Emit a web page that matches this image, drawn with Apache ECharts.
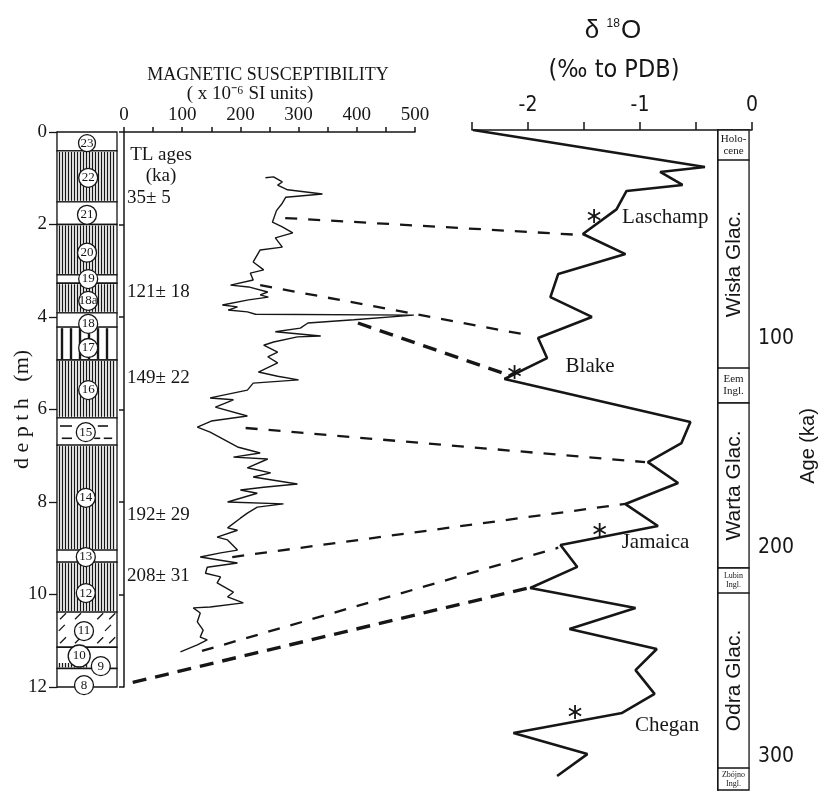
<!DOCTYPE html>
<html>
<head>
<meta charset="utf-8">
<script src="https://cdn.jsdelivr.net/npm/echarts@6/dist/echarts.min.js"></script>
<style>
html, body { margin: 0; padding: 0; background: #fff; }
#chart { width: 819px; height: 796px; }
</style>
</head>
<body>
<div id="chart"></div>
<script>
// ---------- profile data ----------
const depthTicks = [0, 2, 4, 6, 8, 10, 12];          // m
const susTicks = [0, 100, 200, 300, 400, 500];       // x 10^-6 SI
const d18oTicks = [-2, -1, 0];                       // per mil
const ageTicks = [100, 200, 300];                    // ka

// lithological units of the section (depth in m)
const layerUnits   = ['23','22','21','20','19','18a','18','17','16','15','14','13','12','11','10','10','8'];
const layerTops    = [0, 0.41, 1.51, 2.0, 3.09, 3.27, 3.91, 4.22, 4.93, 6.18, 6.77, 9.04, 9.30, 10.38, 11.14, 11.46, 11.60];
const layerBottoms = [0.41, 1.51, 2.0, 3.09, 3.27, 3.91, 4.22, 4.93, 6.18, 6.77, 9.04, 9.30, 10.38, 11.14, 11.60, 11.60, 12.0];
const layerFills   = ['plain','hatch','plain','hatch','plain','hatch','plain','bars','hatch','dashes','hatch','plain','hatch','ticks','plain','hatch','plain'];
const layerAcross  = [1,1,1,1,1,1,1,1,1,1,1,1,1,1,1,0.55,1];   // share of column width

// circled unit numbers
const unitNames  = ['23','22','21','20','19','18a','18','17','16','15','14','13','12','11','10','9','8'];
const unitDepths = [0.24, 0.99, 1.79, 2.61, 3.18, 3.65, 4.15, 4.67, 5.58, 6.49, 7.91, 9.19, 9.97, 10.79, 11.33, 11.55, 11.96];
const unitAcross = [0.5, 0.52, 0.5, 0.5, 0.52, 0.52, 0.52, 0.52, 0.52, 0.48, 0.48, 0.48, 0.48, 0.45, 0.37, 0.73, 0.45];

// TL ages
const tlAges   = ['35\u00b1 5', '121\u00b1 18', '149\u00b1 22', '192\u00b1 29', '208\u00b1 31'];
const tlDepths = [1.43, 3.46, 5.32, 8.28, 9.60];

// magnetic susceptibility log
const susValues = [243,257,272,264,281,341,278,272,262,255,272,290,260,272,234,222,240,217,222,183,214,247,234,248,214,169,195,179,212,226,498,395,316,303,260,338,298,257,240,264,247,264,231,264,300,222,212,148,188,157,212,150,126,148,195,234,188,247,212,252,222,298,240,200,229,178,274,229,212,200,178,195,160,178,195,166,131,195,143,140,166,160,188,178,205,148,119,131,126,136,131,143,126,97];
const susDepths = [0.99,0.97,1.08,1.15,1.25,1.34,1.41,1.54,1.70,1.95,2.05,2.18,2.29,2.49,2.55,2.81,2.98,3.05,3.20,3.31,3.35,3.46,3.52,3.57,3.63,3.74,3.78,3.85,3.89,3.94,3.96,4.06,4.13,4.24,4.32,4.41,4.43,4.54,4.61,4.76,4.86,4.99,5.19,5.28,5.36,5.43,5.58,5.75,5.79,5.95,6.14,6.25,6.38,6.49,6.81,6.94,7.03,7.07,7.26,7.37,7.46,7.61,7.68,7.74,7.81,8.00,8.04,8.11,8.24,8.35,8.56,8.61,8.76,8.82,9.04,9.10,9.19,9.32,9.41,9.54,9.62,9.75,9.95,10.05,10.18,10.27,10.29,10.40,10.59,10.77,10.92,10.98,11.09,11.24];

// marine oxygen isotope record
const d18oValues = [-2.49,-0.42,-0.82,-0.62,-1.12,-1.21,-1.51,-1.13,-1.73,-1.80,-1.43,-1.91,-1.83,-2.21,-0.55,-0.63,-0.93,-0.66,-1.13,-0.84,-1.71,-1.56,-1.98,-1.04,-1.63,-0.85,-1.04,-0.87,-1.16,-2.13,-1.47,-1.74];
const d18oAges   = [0,17.7,20.1,26.3,29.2,38.0,49.8,59.4,68.9,80.0,89.5,99.6,109.2,119.2,139.8,149.9,159.0,169.0,179.1,189.6,198.7,209.2,219.3,228.9,238.9,248.5,258.6,270.0,279.1,288.7,298.8,309.3];

// geomagnetic excursions
const eventNames  = ['Laschamp', 'Blake', 'Jamaica', 'Chegan'];
const eventValues = [-1.41, -2.12, -1.36, -1.58];
const eventAges   = [41.2, 115.9, 191.5, 278.7];

// Polish stratigraphic stages
const stageNames  = ['Holo-\ncene', 'Wis\u0142a Glac.', 'Eem\nIngl.', 'Warta Glac.', 'Lubin\nIngl.', 'Odra Glac.', 'Zb\u00f3jno\nIngl.'];
const stageStarts = [0, 14.4, 114, 130.7, 209.7, 221.7, 305.5];
const stageEnds   = [14.4, 114, 130.7, 209.7, 221.7, 305.5, 316];

// correlation ties: susceptibility feature -> isotope feature
const tieSus    = [277, 234, 402, 209, 186, 134, 15];
const tieDepth  = [1.86, 3.31, 4.13, 6.40, 9.19, 11.22, 11.90];
const tieD18o   = [-1.51, -2.0, -2.23, -0.955, -1.13, -1.73, -2.0];
const tieAge    = [50.3, 98.2, 116.3, 159.0, 179.0, 200.0, 219.3];
const tieHeavy  = [false, false, true, false, false, false, true];

// ---------- styling ----------
const SERIF = "'Liberation Serif', 'Times New Roman', serif";
const SANS = "'Liberation Sans', Arial, sans-serif";
const NARROW = "'Liberation Sans Narrow', 'DejaVu Sans Condensed', 'Liberation Sans', sans-serif";
const INK = '#161616';

const chart = echarts.init(document.getElementById('chart'), null, { renderer: 'canvas' });

function drawLayer(params, api) {
  const i = params.dataIndex;
  const p0 = api.coord([api.value(0), api.value(1)]);
  const p1 = api.coord([api.value(2), api.value(3)]);
  const x0 = p0[0], y0 = p0[1], w = p1[0] - p0[0], h = p1[1] - p0[1];
  const kind = layerFills[i];
  const partial = layerAcross[i] < 1;
  const kids = [];
  if (!partial) {
    kids.push({ type: 'rect', shape: { x: x0, y: y0, width: w, height: h },
      style: { fill: '#fff', stroke: INK, lineWidth: 1.3 } });
  }
  const line = (a, b, c, d, lw) => ({ type: 'line', shape: { x1: a, y1: b, x2: c, y2: d },
    style: { stroke: INK, lineWidth: lw || 1 } });
  if (kind === 'hatch') {
    for (let x = x0 + 2; x < x0 + w - 1; x += 3) {
      const xx = Math.round(x) + 0.5;
      kids.push(line(xx, y0 + 1, xx, y0 + h - 1, 1.3));
    }
  } else if (kind === 'bars') {
    for (let x = x0 + 5; x < x0 + w - 2; x += 9) kids.push(line(x, y0 + 1, x, y0 + h - 1, 2.4));
  } else if (kind === 'dashes') {
    [0.3, 0.75].forEach((fy, r) => {
      const yy = y0 + h * fy;
      const segs = r === 0 ? [[0.05, 0.25], [0.68, 0.85]] : [[0.08, 0.25], [0.62, 0.72], [0.78, 0.92]];
      segs.forEach(s => kids.push(line(x0 + w * s[0], yy, x0 + w * s[1], yy, 1.6)));
    });
  } else if (kind === 'ticks') {
    [0.12, 0.45, 0.8].forEach((fy, r) => {
      const xs = r % 2 ? [0.08, 0.85] : [0.1, 0.35, 0.72, 0.92];
      xs.forEach(fx => {
        const cx = x0 + w * fx, cy = y0 + h * fy;
        kids.push(line(cx - 3, cy + 3, cx + 3, cy - 3, 1.3));
      });
    });
  }
  return { type: 'group', children: kids };
}

function drawStage(params, api) {
  const i = params.dataIndex;
  const p0 = api.coord([api.value(0), api.value(1)]);
  const p1 = api.coord([api.value(2), api.value(3)]);
  const cx = (p0[0] + p1[0]) / 2, cy = (p0[1] + p1[1]) / 2;
  const h = p1[1] - p0[1];
  const kids = [{ type: 'rect', shape: { x: p0[0], y: p0[1], width: p1[0] - p0[0], height: h },
    style: { fill: '#fff', stroke: INK, lineWidth: 1.3 } }];
  const big = stageNames[i].indexOf('Glac') >= 0;
  if (big) {
    kids.push({ type: 'text', x: cx + 1, y: cy, rotation: Math.PI / 2,
      style: { text: stageNames[i], fontFamily: SANS, fontSize: 21, fill: INK, align: 'center', verticalAlign: 'middle' } });
  } else {
    const fs = h > 30 ? 11 : (h > 27 ? 10 : 8);
    kids.push({ type: 'text', x: cx, y: cy,
      style: { text: stageNames[i], fontFamily: SERIF, fontSize: fs, lineHeight: fs + 1, fill: INK, align: 'center', verticalAlign: 'middle' } });
  }
  return { type: 'group', children: kids };
}

const eventLabelOffset = [[28, 1], [51, -6], [22, 13], [60, 13]];
function drawEvent(params, api) {
  const i = params.dataIndex;
  const c = api.coord([api.value(0), api.value(1)]);
  const r = 7;
  const kids = [90, 30, 150].map(deg => {
    const a = deg * Math.PI / 180;
    return { type: 'line', shape: { x1: c[0] - r * Math.cos(a), y1: c[1] - r * Math.sin(a), x2: c[0] + r * Math.cos(a), y2: c[1] + r * Math.sin(a) },
      style: { stroke: INK, lineWidth: 1.8 } };
  });
  const off = eventLabelOffset[i];
  kids.push({ type: 'text', style: { text: eventNames[i], x: c[0] + off[0], y: c[1] + off[1], fontFamily: SERIF, fontSize: 21,
    fill: INK, align: 'left', verticalAlign: 'middle' } });
  return { type: 'group', children: kids };
}

const axisLineStyle = { color: INK, width: 1.5 };

const option = {
  animation: false,
  backgroundColor: '#ffffff',
  grid: [
    { left: 57, top: 132, width: 60, height: 555 },
    { left: 124, top: 132, width: 291, height: 555 },
    { left: 472, top: 130, width: 280, height: 660 },
    { left: 718, top: 130, width: 34, height: 660 }
  ],
  xAxis: [
    { gridIndex: 0, type: 'value', min: 0, max: 1, show: false },
    { gridIndex: 1, type: 'value', position: 'top', min: 0, max: 500, interval: 50,
      axisLine: { show: true, lineStyle: axisLineStyle },
      axisTick: { show: true, length: 5, lineStyle: axisLineStyle },
      axisLabel: { formatter: v => (susTicks.indexOf(v) >= 0 ? String(v) : ''), fontFamily: SERIF, fontSize: 19, color: INK, margin: 7 },
      splitLine: { show: false } },
    { gridIndex: 2, type: 'value', position: 'top', min: -2.5, max: 0, interval: 0.5,
      axisLine: { show: true, lineStyle: axisLineStyle },
      axisTick: { show: true, length: 8, lineStyle: axisLineStyle },
      axisLabel: { formatter: v => (d18oTicks.indexOf(v) >= 0 ? String(v) : ''), fontFamily: NARROW, fontSize: 21, color: INK, margin: 14 },
      splitLine: { show: false } },
    { gridIndex: 3, type: 'value', min: 0, max: 1, show: false }
  ],
  yAxis: [
    { gridIndex: 0, type: 'value', inverse: true, min: 0, max: 12, interval: 2, position: 'left',
      axisLine: { show: true, lineStyle: { color: INK, width: 1.3 } },
      axisTick: { show: true, length: 8, lineStyle: { color: INK, width: 1.3 } },
      axisLabel: { formatter: v => (depthTicks.indexOf(v) >= 0 ? String(v) : ''), fontFamily: SERIF, fontSize: 19, color: INK, margin: 10 },
      splitLine: { show: false },
      name: 'd e p t h   (m)', nameLocation: 'middle', nameRotate: 90, nameGap: 24, nameMoveOverlap: false,
      nameTextStyle: { fontFamily: SERIF, fontSize: 22, color: INK } },
    { gridIndex: 1, type: 'value', inverse: true, min: 0, max: 12, interval: 2, position: 'left',
      axisLine: { show: true, lineStyle: axisLineStyle },
      axisTick: { show: true, length: 5, lineStyle: axisLineStyle },
      axisLabel: { show: false }, splitLine: { show: false } },
    { gridIndex: 2, type: 'value', inverse: true, min: 0, max: 316, show: false },
    { gridIndex: 3, type: 'value', inverse: true, min: 0, max: 316, interval: 100, position: 'right',
      axisLine: { show: true, lineStyle: { color: INK, width: 2 } },
      axisTick: { show: true, length: 7, customValues: ageTicks, lineStyle: { color: INK, width: 1.5 } },
      axisLabel: { customValues: ageTicks, formatter: v => (ageTicks.indexOf(v) >= 0 ? String(v) : ''),
        fontFamily: NARROW, fontSize: 21, color: INK, margin: 9 },
      splitLine: { show: false },
      name: 'Age (ka)', nameLocation: 'middle', nameRotate: 90, nameGap: 44,
      nameTextStyle: { fontFamily: SANS, fontSize: 20, color: INK, padding: [0, 0, 0, 28] } }
  ],
  series: [
    { name: 'units', type: 'custom', xAxisIndex: 0, yAxisIndex: 0, renderItem: drawLayer,
      data: layerTops.map((t, i) => [0, t, layerAcross[i], layerBottoms[i]]), z: 2 },
    { name: 'unit numbers', type: 'scatter', xAxisIndex: 0, yAxisIndex: 0, clip: false,
      data: unitNames.map((n, i) => ({ value: [unitAcross[i], unitDepths[i]], name: n,
        symbolSize: n === '10' ? 22 : (n === '23' ? 17 : 19) })),
      itemStyle: { color: '#fff', borderColor: INK, borderWidth: 1.3, opacity: 1 },
      label: { show: true, position: 'inside', formatter: p => p.name, fontFamily: SERIF,
        fontSize: 13, color: INK },
      z: 5 },
    { name: 'TL ages', type: 'scatter', xAxisIndex: 1, yAxisIndex: 1, symbolSize: 0, clip: false,
      itemStyle: { opacity: 1 },
      data: tlAges.map((a, i) => ({ value: [0, tlDepths[i]], name: a })),
      label: { show: true, position: 'right', distance: 3, formatter: p => p.name, fontFamily: SERIF, fontSize: 19, color: INK } },
    { name: 'TL heading', type: 'scatter', xAxisIndex: 1, yAxisIndex: 1, symbolSize: 0, clip: false,
      itemStyle: { opacity: 1 },
      data: [{ value: [0, 0.72], name: 'TL ages\n(ka)' }],
      label: { show: true, position: 'inside', offset: [37, 0], align: 'center', formatter: p => p.name,
        fontFamily: SERIF, fontSize: 19, lineHeight: 21, color: INK } },
    { name: 'magnetic susceptibility', type: 'line', xAxisIndex: 1, yAxisIndex: 1, symbol: 'none',
      data: susValues.map((v, i) => [v, susDepths[i]]),
      lineStyle: { color: INK, width: 1.4 }, z: 3 },
    { name: 'delta 18O', type: 'line', xAxisIndex: 2, yAxisIndex: 2, symbol: 'none',
      data: d18oValues.map((v, i) => [v, d18oAges[i]]),
      lineStyle: { color: INK, width: 2.6 }, z: 3 },
    { name: 'excursions', type: 'custom', xAxisIndex: 2, yAxisIndex: 2, renderItem: drawEvent,
      data: eventValues.map((v, i) => [v, eventAges[i]]), z: 4 },
    { name: 'stages', type: 'custom', xAxisIndex: 3, yAxisIndex: 3, renderItem: drawStage,
      data: stageStarts.map((s, i) => [0, s, 1, stageEnds[i]]), z: 2 }
  ]
};

chart.setOption(option);

// titles and correlation ties (tie ends located through the axes of each panel)
const graphics = [
  { type: 'text', x: 268, y: 75, style: { text: 'MAGNETIC SUSCEPTIBILITY', fontFamily: SERIF, fontSize: 18, fill: INK, align: 'center', verticalAlign: 'middle' } },
  { type: 'text', x: 250, y: 94, style: { text: '( x 10\u207b\u2076 SI units)', fontFamily: SERIF, fontSize: 19, fill: INK, align: 'center', verticalAlign: 'middle' } },
  { type: 'text', x: 613, y: 31, style: {
      text: '{a|\u03b4 }{s|18}{a|O}', align: 'center', verticalAlign: 'middle',
      rich: { a: { fontFamily: SANS, fontSize: 26, fill: INK, color: INK, lineHeight: 30 },
              s: { fontFamily: SANS, fontSize: 12, fill: INK, color: INK, lineHeight: 30, verticalAlign: 'top', padding: [2, 1, 0, 0] } } } },
  { type: 'text', x: 614, y: 70, style: { text: '(\u2030 to PDB)', fontFamily: NARROW, fontSize: 25, fill: INK, align: 'center', verticalAlign: 'middle' } }
];
tieSus.forEach((s, i) => {
  const a = chart.convertToPixel({ gridIndex: 1 }, [s, tieDepth[i]]);
  const b = chart.convertToPixel({ gridIndex: 2 }, [tieD18o[i], tieAge[i]]);
  graphics.push({ type: 'line', silent: true, z: 10,
    shape: { x1: a[0], y1: a[1], x2: b[0], y2: b[1] },
    style: { stroke: INK, lineWidth: tieHeavy[i] ? 3.4 : 2.3, lineDash: tieHeavy[i] ? [14, 9] : [12, 11] } });
});
chart.setOption({ graphic: graphics });
</script>
</body>
</html>
